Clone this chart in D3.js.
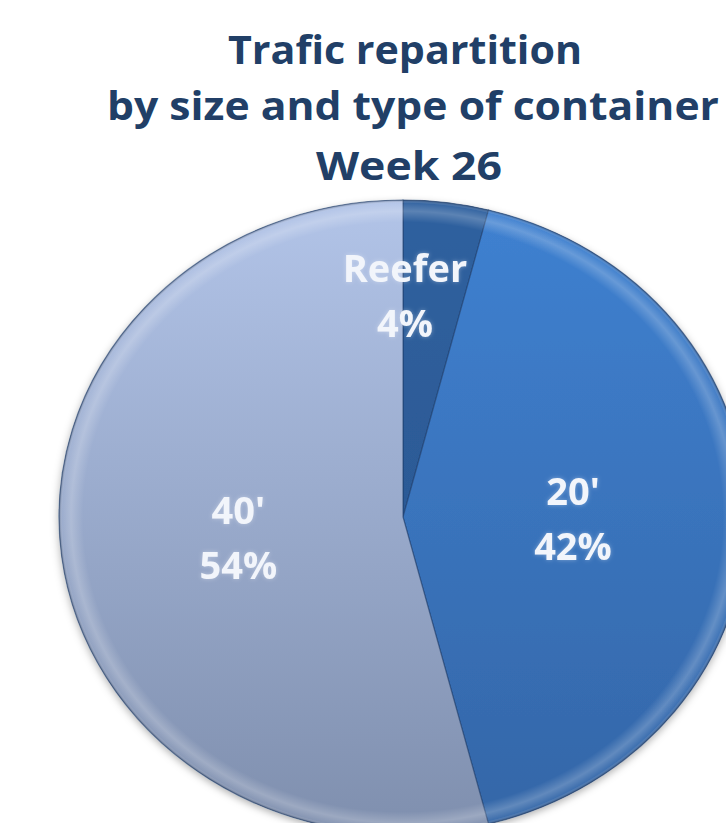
<!DOCTYPE html>
<html>
<head>
<meta charset="utf-8">
<script src="https://cdn.jsdelivr.net/npm/d3@7"></script>
<style>
  body { margin: 0; background: #fff; overflow: hidden; }
  svg { display: block; }
</style>
</head>
<body>
<div id="chart"></div>
<script>
// data
var categories = ["Reefer", "20'", "40'"];
var shares = [4, 42, 54];
var titleLines = ["Trafic repartition", "by size and type of container", "Week 26"];

var width = 726, height = 823;
var cx = 403, cy = 517;
var rx = 344, ry = 317;   // the pie is drawn a bit wider than tall

var svg = d3.select("#chart").append("svg")
    .attr("width", width).attr("height", height);

var defs = svg.append("defs");

// one vertical gradient per slice
var grads = [
  ["#2f619f", "#29528c"],
  ["#3f81d1", "#3466a7"],
  ["#b2c4e8", "#7f8fae"]
];
grads.forEach(function(g, i) {
  var lg = defs.append("linearGradient")
      .attr("id", "g" + i)
      .attr("gradientUnits", "userSpaceOnUse")
      .attr("x1", 0).attr("y1", -rx).attr("x2", 0).attr("y2", rx);
  lg.append("stop").attr("offset", "0%").attr("stop-color", g[0]);
  lg.append("stop").attr("offset", "100%").attr("stop-color", g[1]);
});

// rim bevel
var rim = defs.append("radialGradient")
    .attr("id", "rim").attr("gradientUnits", "userSpaceOnUse")
    .attr("cx", 0).attr("cy", 0).attr("r", rx);
rim.append("stop").attr("offset", "0.93").attr("stop-color", "#fff").attr("stop-opacity", 0);
rim.append("stop").attr("offset", "0.965").attr("stop-color", "#fff").attr("stop-opacity", 0.22);
rim.append("stop").attr("offset", "0.99").attr("stop-color", "#fff").attr("stop-opacity", 0.05);
rim.append("stop").attr("offset", "1").attr("stop-color", "#1c2f4e").attr("stop-opacity", 0.5);

var shadow = defs.append("filter").attr("id", "shadow")
    .attr("x", "-10%").attr("y", "-10%").attr("width", "120%").attr("height", "120%");
shadow.append("feDropShadow").attr("dx", 0).attr("dy", 3).attr("stdDeviation", 4)
    .attr("flood-color", "#000").attr("flood-opacity", 0.3);

var glow = defs.append("filter").attr("id", "glow")
    .attr("x", "-20%").attr("y", "-20%").attr("width", "140%").attr("height", "140%");
glow.append("feGaussianBlur").attr("in", "SourceAlpha").attr("stdDeviation", 2).attr("result", "b");
glow.append("feFlood").attr("flood-color", "#ffffff").attr("flood-opacity", 0.35);
glow.append("feComposite").attr("in2", "b").attr("operator", "in").attr("result", "c");
var mg = glow.append("feMerge");
mg.append("feMergeNode").attr("in", "c");
mg.append("feMergeNode").attr("in", "SourceGraphic");

// title
var title = svg.append("g").attr("font-family", "'Open Sans', sans-serif")
    .attr("font-weight", "bold").attr("font-size", 40).attr("fill", "#213f67")
    .attr("text-anchor", "middle");
var titleX = [405, 413, 409], titleY = [64, 120, 180], titleW = [354, 612, 186];
titleLines.forEach(function(t, i) {
  title.append("text").attr("x", titleX[i]).attr("y", titleY[i])
      .attr("textLength", titleW[i]).attr("lengthAdjust", "spacingAndGlyphs")
      .text(t);
});

// pie
var pie = d3.pie().sort(null).value(function(d) { return d; });
var arcs = pie(shares);
var arc = d3.arc().innerRadius(0).outerRadius(rx);

var pieG = svg.append("g")
    .attr("transform", "translate(" + cx + "," + cy + ") scale(1," + (ry / rx) + ")");

var slices = pieG.append("g").attr("filter", "url(#shadow)");
slices.selectAll("path.slice")
  .data(arcs).enter().append("path")
    .attr("class", "slice")
    .attr("d", arc)
    .attr("fill", function(d, i) { return "url(#g" + i + ")"; })
    .attr("stroke", "#1f3f6e").attr("stroke-opacity", 0.6).attr("stroke-width", 1.2);

pieG.append("g").selectAll("path.rim")
  .data(arcs).enter().append("path")
    .attr("class", "rim")
    .attr("d", arc)
    .attr("fill", "url(#rim)");

// labels
var labelR = 168;
var labels = svg.append("g").attr("font-family", "'Open Sans', sans-serif")
    .attr("font-weight", "bold").attr("font-size", 38).attr("fill", "#f2f5fb")
    .attr("text-anchor", "middle").attr("filter", "url(#glow)");

arcs.forEach(function(d, i) {
  var a, r;
  if (d.endAngle - d.startAngle < 0.3) { a = d.startAngle; r = 242; }   // thin slice: label sits on its edge
  else { a = (d.startAngle + d.endAngle) / 2; r = labelR; }
  var x = cx + r * Math.sin(a) + 2;
  var y = cy - r * Math.cos(a) * ry / rx - 12;
  var t = labels.append("text").attr("x", x).attr("y", y);
  t.append("tspan").attr("x", x).attr("dy", 0).text(categories[i]);
  t.append("tspan").attr("x", x).attr("dy", 55).text(shares[i] + "%");
});
</script>
</body>
</html>
